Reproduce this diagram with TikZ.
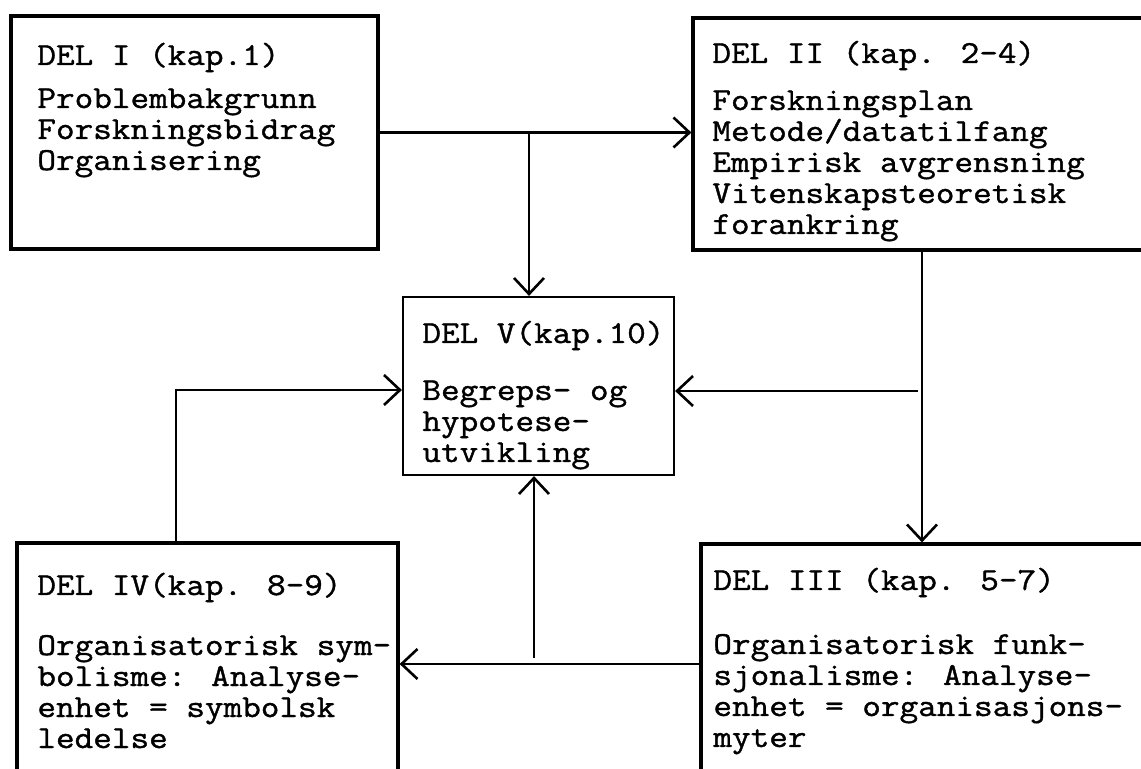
\documentclass[tikz,border=0pt]{standalone}
\usepackage{fontspec}
\newfontfamily\typew[FakeStretch=1.13,FakeBold=1.2]{Latin Modern Mono}
\usetikzlibrary{arrows.meta,fit}
\begin{document}
\begin{tikzpicture}[x=0.5pt,y=-0.5pt,
  box/.style={draw, line width=1.6pt, inner sep=0pt},
  thinbox/.style={draw, line width=1.1pt, inner sep=0pt},
  txt/.style={anchor=base west, align=left, inner sep=0pt,
    font=\typew\fontsize{16pt}{15.5pt}\selectfont},
  link/.style={line width=1.3pt},
  arr/.style={link, -{Straight Barb[length=8pt,width=15pt,line width=1.3pt]}}
]
\useasboundingbox (0,0) rectangle (1141,769);
\clip (0,0) rectangle (1141,769);

% boxes (the right and lower ones run past the page edge)
\node[box, fit={(11,16) (378,249)}] (d1) {};
\node[box, fit={(693,18) (1170,250)}] (d2) {};
\node[thinbox, fit={(403,297) (674,475)}] (d5) {};
\node[box, fit={(17,543) (398,820)}] (d4) {};
\node[box, fit={(701,544) (1170,820)}] (d3) {};

% box texts: titles sit on their baseline, bodies on the baseline of their last line
\node[txt] (d1t) at (37,65) {DEL I (kap.1)};
\node[txt] (d1b) at (37,170) {Problembakgrunn\\Forskningsbidrag\\Organisering};
\node[txt] (d2t) at (712,63) {DEL II (kap. 2-4)};
\node[txt] (d2b) at (712,234) {Forskningsplan\\Metode/datatilfang\\Empirisk avgrensning\\Vitenskapsteoretisk\\forankring};
\node[txt] (d5t) at (422,343) {DEL V(kap.10)};
\node[txt] (d5b) at (422,462) {Begreps- og\\hypotese-\\utvikling};
\node[txt] (d4t) at (37,595) {DEL IV(kap. 8-9)};
\node[txt] (d4b) at (37,748) {Organisatorisk sym-\\bolisme: Analyse-\\enhet = symbolsk\\ledelse};
\node[txt] (d3t) at (713,590) {DEL III (kap. 5-7)};
\node[txt] (d3b) at (713,747) {Organisatorisk funk-\\sjonalisme: Analyse-\\enhet = organisasjons-\\myter};

% branch points
\coordinate (j1) at (529,0);
\coordinate (j2) at (922,0);
\coordinate (j3) at (918,391);
\coordinate (j4) at (176,390);
\coordinate (j5) at (0,664);
\coordinate (j6) at (534,658);

% connectors
\draw[arr] (d1.east) -- (d1.east -| d2.west);
\draw[arr] (d1.east -| j1) -- (j1 |- d5.north);
\draw[arr] (d2.south -| j2) -- (d3.north -| j2);
\draw[arr] (j3) -- (j3 -| d5.east);
\draw[arr] (d4.north -| j4) -- (j4) -- (j4 -| d5.west);
\draw[arr] (d3.west |- j5) -- (d4.east |- j5);
\draw[arr] (j6) -- (j6 |- d5.south);
\end{tikzpicture}
\end{document}
